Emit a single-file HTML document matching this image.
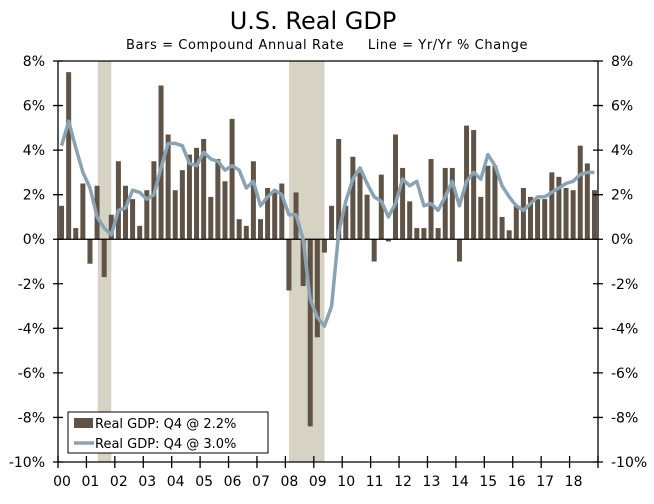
<!DOCTYPE html>
<html><head><meta charset="utf-8"><style>
body{margin:0;background:#fff;}
svg text{font-family:"DejaVu Sans","Liberation Sans",sans-serif;fill:#000;}
</style></head><body>
<svg id="chart" width="654" height="499" viewBox="0 0 654 499" xmlns="http://www.w3.org/2000/svg">
<text x="313" y="29" font-size="24" text-anchor="middle">U.S. Real GDP</text>
<text x="327" y="49" font-size="13" letter-spacing="0.6" text-anchor="middle" xml:space="preserve">Bars = Compound Annual Rate     Line = Yr/Yr % Change</text>
<g id="rec"></g><g id="bars"></g><g id="axes"></g><g id="line"></g>
<g>
<rect x="68" y="412" width="200" height="41" fill="#fff" stroke="#000" stroke-width="1"/>
<rect x="74" y="418" width="19" height="10" fill="#5f5246"/>
<text x="95" y="428" font-size="13">Real GDP: Q4 @ 2.2%</text>
<line x1="74" y1="443" x2="94" y2="443" stroke="#8aa3b3" stroke-width="3.5"/>
<text x="95" y="448" font-size="13">Real GDP: Q4 @ 3.0%</text>
</g>
</svg>
<script>
const years=["00","01","02","03","04","05","06","07","08","09","10","11","12","13","14","15","16","17","18"];
const yTicks=[8,6,4,2,0,-2,-4,-6,-8,-10];
const barValues=[1.5,7.5,0.5,2.5,-1.1,2.4,-1.7,1.1,3.5,2.4,1.8,0.6,2.2,3.5,6.9,4.7,2.2,3.1,3.8,4.1,4.5,1.9,3.6,2.6,5.4,0.9,0.6,3.5,0.9,2.3,2.2,2.5,-2.3,2.1,-2.1,-8.4,-4.4,-0.6,1.5,4.5,1.5,3.7,3.0,2.0,-1.0,2.9,-0.1,4.7,3.2,1.7,0.5,0.5,3.6,0.5,3.2,3.2,-1.0,5.1,4.9,1.9,3.3,3.3,1.0,0.4,1.5,2.3,1.9,1.8,1.8,3.0,2.8,2.3,2.2,4.2,3.4,2.2];
const lineValues=[4.2,5.3,4.1,3.0,2.3,1.0,0.5,0.2,1.3,1.4,2.2,2.1,1.8,2.0,3.2,4.3,4.3,4.2,3.4,3.3,3.9,3.6,3.5,3.1,3.3,3.1,2.3,2.6,1.5,1.9,2.2,2.0,1.1,1.1,0.0,-2.7,-3.5,-3.9,-3.0,0.3,1.7,2.7,3.2,2.5,1.9,1.7,1.0,1.6,2.7,2.4,2.6,1.5,1.6,1.3,1.9,2.6,1.5,2.6,3.0,2.7,3.8,3.3,2.4,1.9,1.5,1.3,1.6,1.9,1.9,2.1,2.3,2.5,2.6,2.9,3.0,3.0];
const recessionStarts=[5.6,32.5];
const recessionEnds=[7.5,37.5];
const L=58,R=598,T=61,B=462,N=76,YMAX=8,YMIN=-10;
const sw=(R-L)/N;
function xq(i){return L+sw*i;}
function y(v){return T+(YMAX-v)/(YMAX-YMIN)*(B-T);}
const NS="http://www.w3.org/2000/svg";
function mk(tag,attrs,parent){const e=document.createElementNS(NS,tag);for(const k in attrs)e.setAttribute(k,attrs[k]);parent.appendChild(e);return e;}
const rec=document.getElementById('rec'),bars=document.getElementById('bars'),axes=document.getElementById('axes'),lineG=document.getElementById('line');
recessionStarts.forEach((s,k)=>{
 const r=mk('rect',{x:xq(s),y:T,width:xq(recessionEnds[k])-xq(s),height:B-T,fill:'#d6d2c4'},rec);
 
 
});
barValues.forEach((v,i)=>{
 const cx=xq(i+0.5),y0=y(0),yv=y(v);
 const b=mk('rect',{x:cx-2.5,y:Math.min(y0,yv),width:5,height:Math.abs(yv-y0),fill:'#5f5246'},bars);
 
 
});
const ax=mk('path',{d:`M${L},${T}H${R}M${L},${T}V${B}H${R}V${T}M${L},${y(0)}H${R}`,stroke:'#000','stroke-width':1.3,fill:'none'},axes);


yTicks.forEach(t=>{
 const yy=y(t);
 mk('path',{d:`M${L-5},${yy}H${L+5}M${R-5},${yy}H${R+5}`,stroke:'#000','stroke-width':1.3},axes);
 const a=mk('text',{x:L-13,y:yy+5,'font-size':14,'text-anchor':'end'},axes);a.textContent=t+'%';
 
 
 const b=mk('text',{x:R+13,y:yy+5,'font-size':14,'text-anchor':'start'},axes);b.textContent=t+'%';
 
 
});
years.forEach((yr,k)=>{
 const xx=xq(k*4);
 mk('path',{d:`M${xx},${B-6}V${B+6}`,stroke:'#000','stroke-width':1.3},axes);
 const t=mk('text',{x:xx+4,y:B+24,'font-size':14,'text-anchor':'middle'},axes);t.textContent=yr;
 
 
});
mk('path',{d:`M${R},${B-6}V${B+6}`,stroke:'#000','stroke-width':1.3},axes);
const pts=lineValues.map((v,i)=>xq(i+0.5).toFixed(1)+','+y(v).toFixed(1)).join(' ');
const pl=mk('polyline',{points:pts,fill:'none',stroke:'#8aa3b3','stroke-width':3.5,'stroke-linejoin':'round'},lineG);


</script>
</body></html>
